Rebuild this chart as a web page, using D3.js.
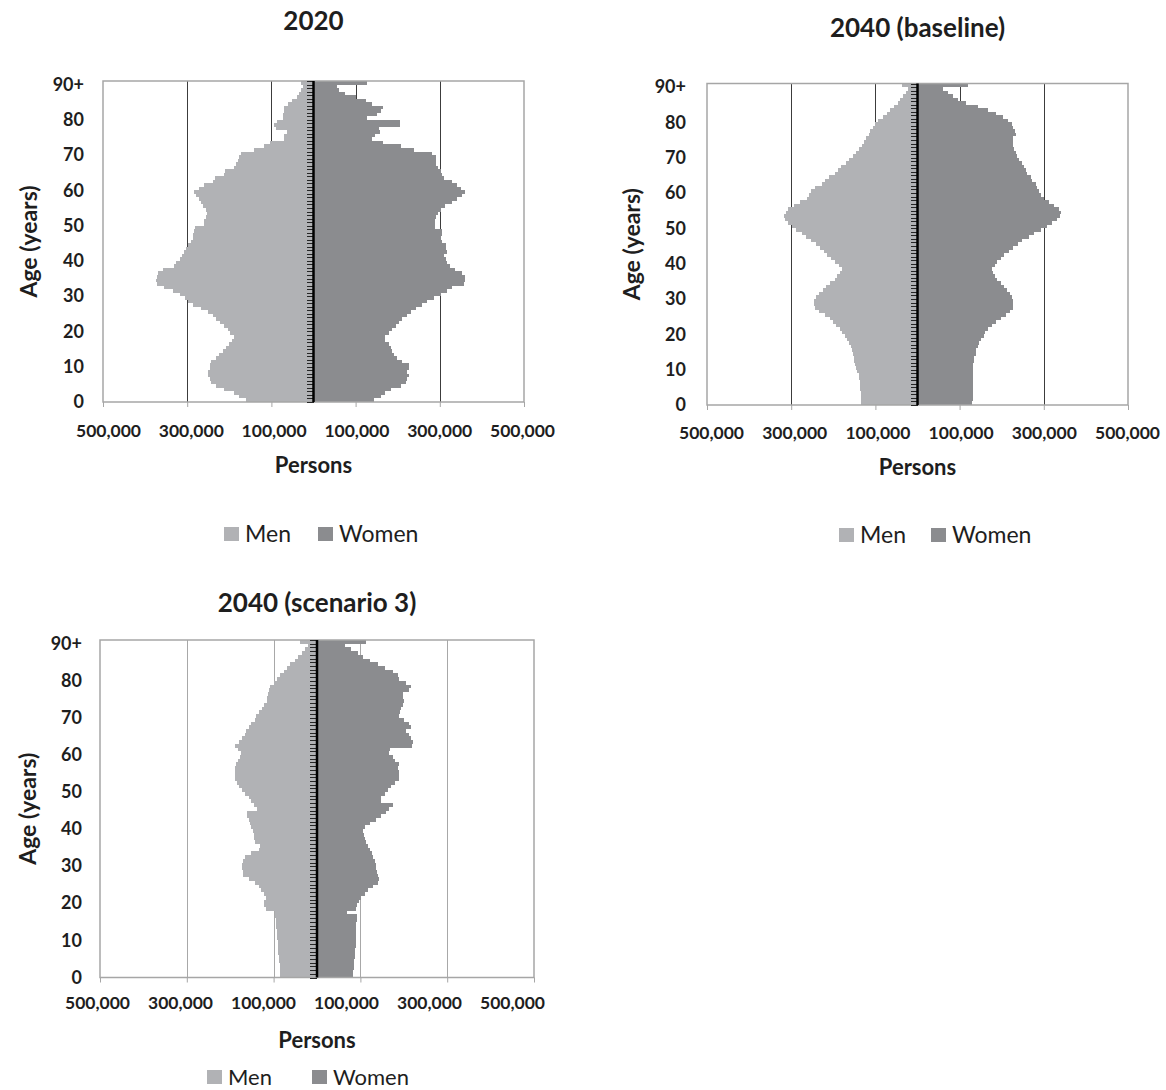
<!DOCTYPE html>
<html>
<head>
<meta charset="utf-8">
<script src="https://cdnjs.cloudflare.com/ajax/libs/d3/7.8.5/d3.min.js"></script>
<style>
body { margin: 0; background: #fff; }
svg text { font-family: Lato, "Open Sans", sans-serif; fill: #1e1e1e; }
</style>
</head>
<body>
<script>
// single years of age, last group open-ended
var ages = d3.range(0, 90).map(String).concat(["90+"]);
var ageLabels = ["0", "10", "20", "30", "40", "50", "60", "70", "80", "90+"];
var xTicks = [-500000, -300000, -100000, 100000, 300000, 500000];
var seriesNames = ["Men", "Women"];

// persons in thousands, ages 0 .. 90+
var men2020 = [160,176,188,212,231,243,247,251,251,247,
    247,243,231,224,216,208,200,194,190,198,
    204,212,221,231,239,251,267,287,299,306,
    318,334,354,371,374,371,370,358,332,326,
    316,313,307,303,299,291,287,287,283,281,
    261,259,255,253,255,263,267,271,279,283,
    271,259,239,234,212,210,190,184,180,176,
    172,141,117,103,70,70,63,89,93,87,
    73,73,70,70,60,50,40,34,30,24,
    30];
var women2020 = [144,160,171,183,207,219,223,227,223,227,
    227,211,199,191,187,183,179,171,171,179,
    187,195,203,211,223,231,243,258,270,286,
    302,318,329,357,361,361,353,337,325,318,
    314,310,318,314,314,306,302,306,306,288,
    288,288,290,295,303,312,328,342,352,360,
    350,342,328,310,306,304,296,292,290,290,
    282,238,208,165,140,145,158,155,205,205,
    128,150,160,165,140,125,100,75,60,55,
    128];

var menBaseline = [134,134,135,135,136,136,137,139,140,143,
    146,148,150,151,153,156,159,162,168,173,
    179,183,194,201,209,220,235,244,246,245,
    242,235,225,217,207,197,191,183,179,186,
    195,205,215,223,231,241,254,264,275,288,
    299,307,315,317,313,307,294,278,262,258,
    254,244,228,220,211,197,189,181,170,162,
    154,146,139,131,126,123,116,113,106,101,
    93,83,73,65,55,47,41,34,28,22,
    38];
var womenBaseline = [130,131,131,131,131,132,132,132,132,132,
    133,133,134,135,138,140,143,147,151,157,
    161,167,176,187,198,210,220,226,228,227,
    224,220,212,205,198,190,184,179,176,183,
    189,198,206,218,226,238,249,265,277,293,
    308,320,332,338,340,336,324,312,301,293,
    289,285,281,273,269,261,257,253,249,242,
    236,234,230,228,226,228,234,231,226,224,
    214,202,187,167,143,116,96,84,72,60,
    120];

var menScenario3 = [85,85,85,86,87,88,89,89,90,91,
    92,92,93,94,95,95,96,97,118,123,
    123,117,123,128,134,142,157,170,171,172,
    172,170,167,153,134,132,142,146,146,147,
    152,155,157,161,161,138,146,152,157,165,
    172,180,185,188,190,190,188,187,182,178,
    176,182,188,180,172,167,163,157,152,144,
    140,134,127,121,115,115,114,111,108,100,
    92,86,77,69,62,50,43,35,27,20,
    39];
var womenScenario3 = [83,84,85,85,86,87,88,88,89,89,
    89,89,90,90,91,92,92,68,89,93,
    97,102,110,118,129,140,144,141,139,137,
    137,134,130,126,122,118,114,111,108,106,
    110,121,137,148,159,167,175,148,148,156,
    163,171,179,190,190,190,186,188,179,175,
    166,169,220,222,217,213,205,217,213,201,
    190,192,194,198,201,198,199,213,217,205,
    190,186,175,156,140,121,106,95,79,64,
    114];

var menColor = "#b1b2b5";
var womenColor = "#8b8c8f";

var svg = d3.select("body")
        .append("svg")
        .attr("width", 1166)
        .attr("height", 1090);

var charts = [
    {title: "2020", men: men2020, women: women2020,
        left: 103, right: 524, top: 81, bottom: 402,
        labelLeft: 108, labelRight: 522, grid: "#3c3c3c",
        titleY: 30, yLabelX: 84, ageX: 29, tickY: 431, personsY: 465,
        legendY: 534, legendMen: 224, legendWomen: 318, legendSize: 23},
    {title: "2040 (baseline)", men: menBaseline, women: womenBaseline,
        left: 707, right: 1128, top: 83.5, bottom: 405,
        labelLeft: 711, labelRight: 1127, grid: "#3c3c3c",
        titleY: 37, yLabelX: 686, ageX: 632, tickY: 433, personsY: 467,
        legendY: 535, legendMen: 839, legendWomen: 931, legendSize: 23},
    {title: "2040 (scenario 3)", men: menScenario3, women: womenScenario3,
        left: 100, right: 534, top: 640, bottom: 977.5,
        labelLeft: 97, labelRight: 512, grid: "#a8a8a8",
        titleY: 612, yLabelX: 82, ageX: 28, tickY: 1003, personsY: 1040,
        legendY: 1077, legendMen: 207, legendWomen: 312, legendSize: 22}
];

function drawPyramid(c) {
    var g = svg.append("g");
    var cx = (c.left + c.right) / 2;

    var x = d3.scaleLinear()
            .domain([-500000, 500000])
            .range([c.left, c.right]);
    var y = d3.scaleBand()
            .domain(ages)
            .range([c.bottom, c.top])
            .padding(0);
    var yEdges = d3.scaleLinear()
            .domain([0, ages.length])
            .range([c.bottom, c.top]);

    // vertical gridlines
    g.append("g")
            .attr("transform", "translate(0," + c.top + ")")
            .call(d3.axisBottom(x).tickValues(xTicks.slice(1, -1))
                    .tickSize(c.bottom - c.top).tickFormat(""))
            .call(function (s) { s.select(".domain").remove(); })
            .selectAll("line")
            .attr("stroke", c.grid)
            .attr("shape-rendering", "crispEdges");

    var rows = ages.map(function (a, i) {
        return {age: a, men: c.men[i] * 1000, women: c.women[i] * 1000};
    });

    g.append("g").selectAll("rect")
            .data(rows)
            .enter().append("rect")
            .attr("x", function (d) { return x(-d.men); })
            .attr("y", function (d) { return y(d.age); })
            .attr("width", function (d) { return x(0) - x(-d.men); })
            .attr("height", y.bandwidth())
            .attr("fill", menColor)
            .attr("shape-rendering", "crispEdges");

    g.append("g").selectAll("rect")
            .data(rows)
            .enter().append("rect")
            .attr("x", x(0))
            .attr("y", function (d) { return y(d.age); })
            .attr("width", function (d) { return x(d.women) - x(0); })
            .attr("height", y.bandwidth())
            .attr("fill", womenColor)
            .attr("shape-rendering", "crispEdges");

    // plot border
    g.append("rect")
            .attr("x", c.left)
            .attr("y", c.top)
            .attr("width", c.right - c.left)
            .attr("height", c.bottom - c.top)
            .attr("fill", "none")
            .attr("stroke", "#a6a6a6")
            .attr("stroke-width", 1.5);

    // category ticks along the zero line
    g.append("g")
            .attr("transform", "translate(" + x(0) + ",0)")
            .call(d3.axisLeft(yEdges).tickValues(d3.range(0, ages.length + 1))
                    .tickSize(7).tickFormat(""))
            .call(function (s) { s.select(".domain").remove(); })
            .selectAll("line")
            .attr("stroke", "#262626")
            .attr("shape-rendering", "crispEdges");

    g.append("line")
            .attr("x1", x(0)).attr("x2", x(0))
            .attr("y1", c.top).attr("y2", c.bottom)
            .attr("stroke", "#000")
            .attr("stroke-width", 2.5);

    // x tick marks under the border
    g.append("g")
            .attr("transform", "translate(0," + c.bottom + ")")
            .call(d3.axisBottom(x).tickValues(xTicks).tickSize(5).tickFormat(""))
            .call(function (s) { s.select(".domain").remove(); })
            .selectAll("line")
            .attr("stroke", "#a6a6a6");

    // x labels (absolute values on both sides)
    var xl = d3.scaleLinear()
            .domain([-500000, 500000])
            .range([c.labelLeft, c.labelRight]);
    g.append("g")
            .attr("transform", "translate(0," + c.tickY + ")")
            .call(d3.axisBottom(xl).tickValues(xTicks).tickSize(0).tickPadding(0)
                    .tickFormat(function (d) { return d3.format(",")(Math.abs(d)); }))
            .call(function (s) { s.select(".domain").remove(); })
            .selectAll("text")
            .attr("dy", "0.36em")
            .style("font-size", "17.5px")
            .style("font-weight", "bold");

    // age labels
    g.append("g")
            .attr("transform", "translate(" + c.yLabelX + ",1.5)")
            .call(d3.axisLeft(y).tickValues(ageLabels).tickSize(0).tickPadding(0))
            .call(function (s) { s.select(".domain").remove(); })
            .selectAll("text")
            .attr("dy", "0.36em")
            .style("font-size", "18px")
            .style("font-weight", "bold");

    g.append("text")
            .attr("x", cx)
            .attr("y", c.titleY)
            .attr("text-anchor", "middle")
            .style("font-size", "26px")
            .style("font-weight", "bold")
            .text(c.title);

    g.append("text")
            .attr("x", cx)
            .attr("y", c.personsY)
            .attr("dy", "0.36em")
            .attr("text-anchor", "middle")
            .style("font-size", "22px")
            .style("font-weight", "bold")
            .text("Persons");

    g.append("text")
            .attr("transform", "translate(" + c.ageX + "," + (c.top + c.bottom) / 2 + ") rotate(-90)")
            .attr("dy", "0.36em")
            .attr("text-anchor", "middle")
            .style("font-size", "23px")
            .style("font-weight", "bold")
            .text("Age (years)");

    // legend
    var lx = [c.legendMen, c.legendWomen];
    var lg = g.append("g").selectAll("g")
            .data(seriesNames)
            .enter().append("g")
            .attr("transform", function (d, i) {
                return "translate(" + lx[i] + "," + c.legendY + ")";
            });
    lg.append("rect")
            .attr("x", 0)
            .attr("y", -7)
            .attr("width", 15)
            .attr("height", 14)
            .attr("fill", function (d, i) { return i === 0 ? menColor : womenColor; });
    lg.append("text")
            .attr("x", 21)
            .attr("dy", "0.36em")
            .style("font-size", c.legendSize + "px")
            .text(function (d) { return d; });
}

charts.forEach(drawPyramid);
</script>
</body>
</html>
